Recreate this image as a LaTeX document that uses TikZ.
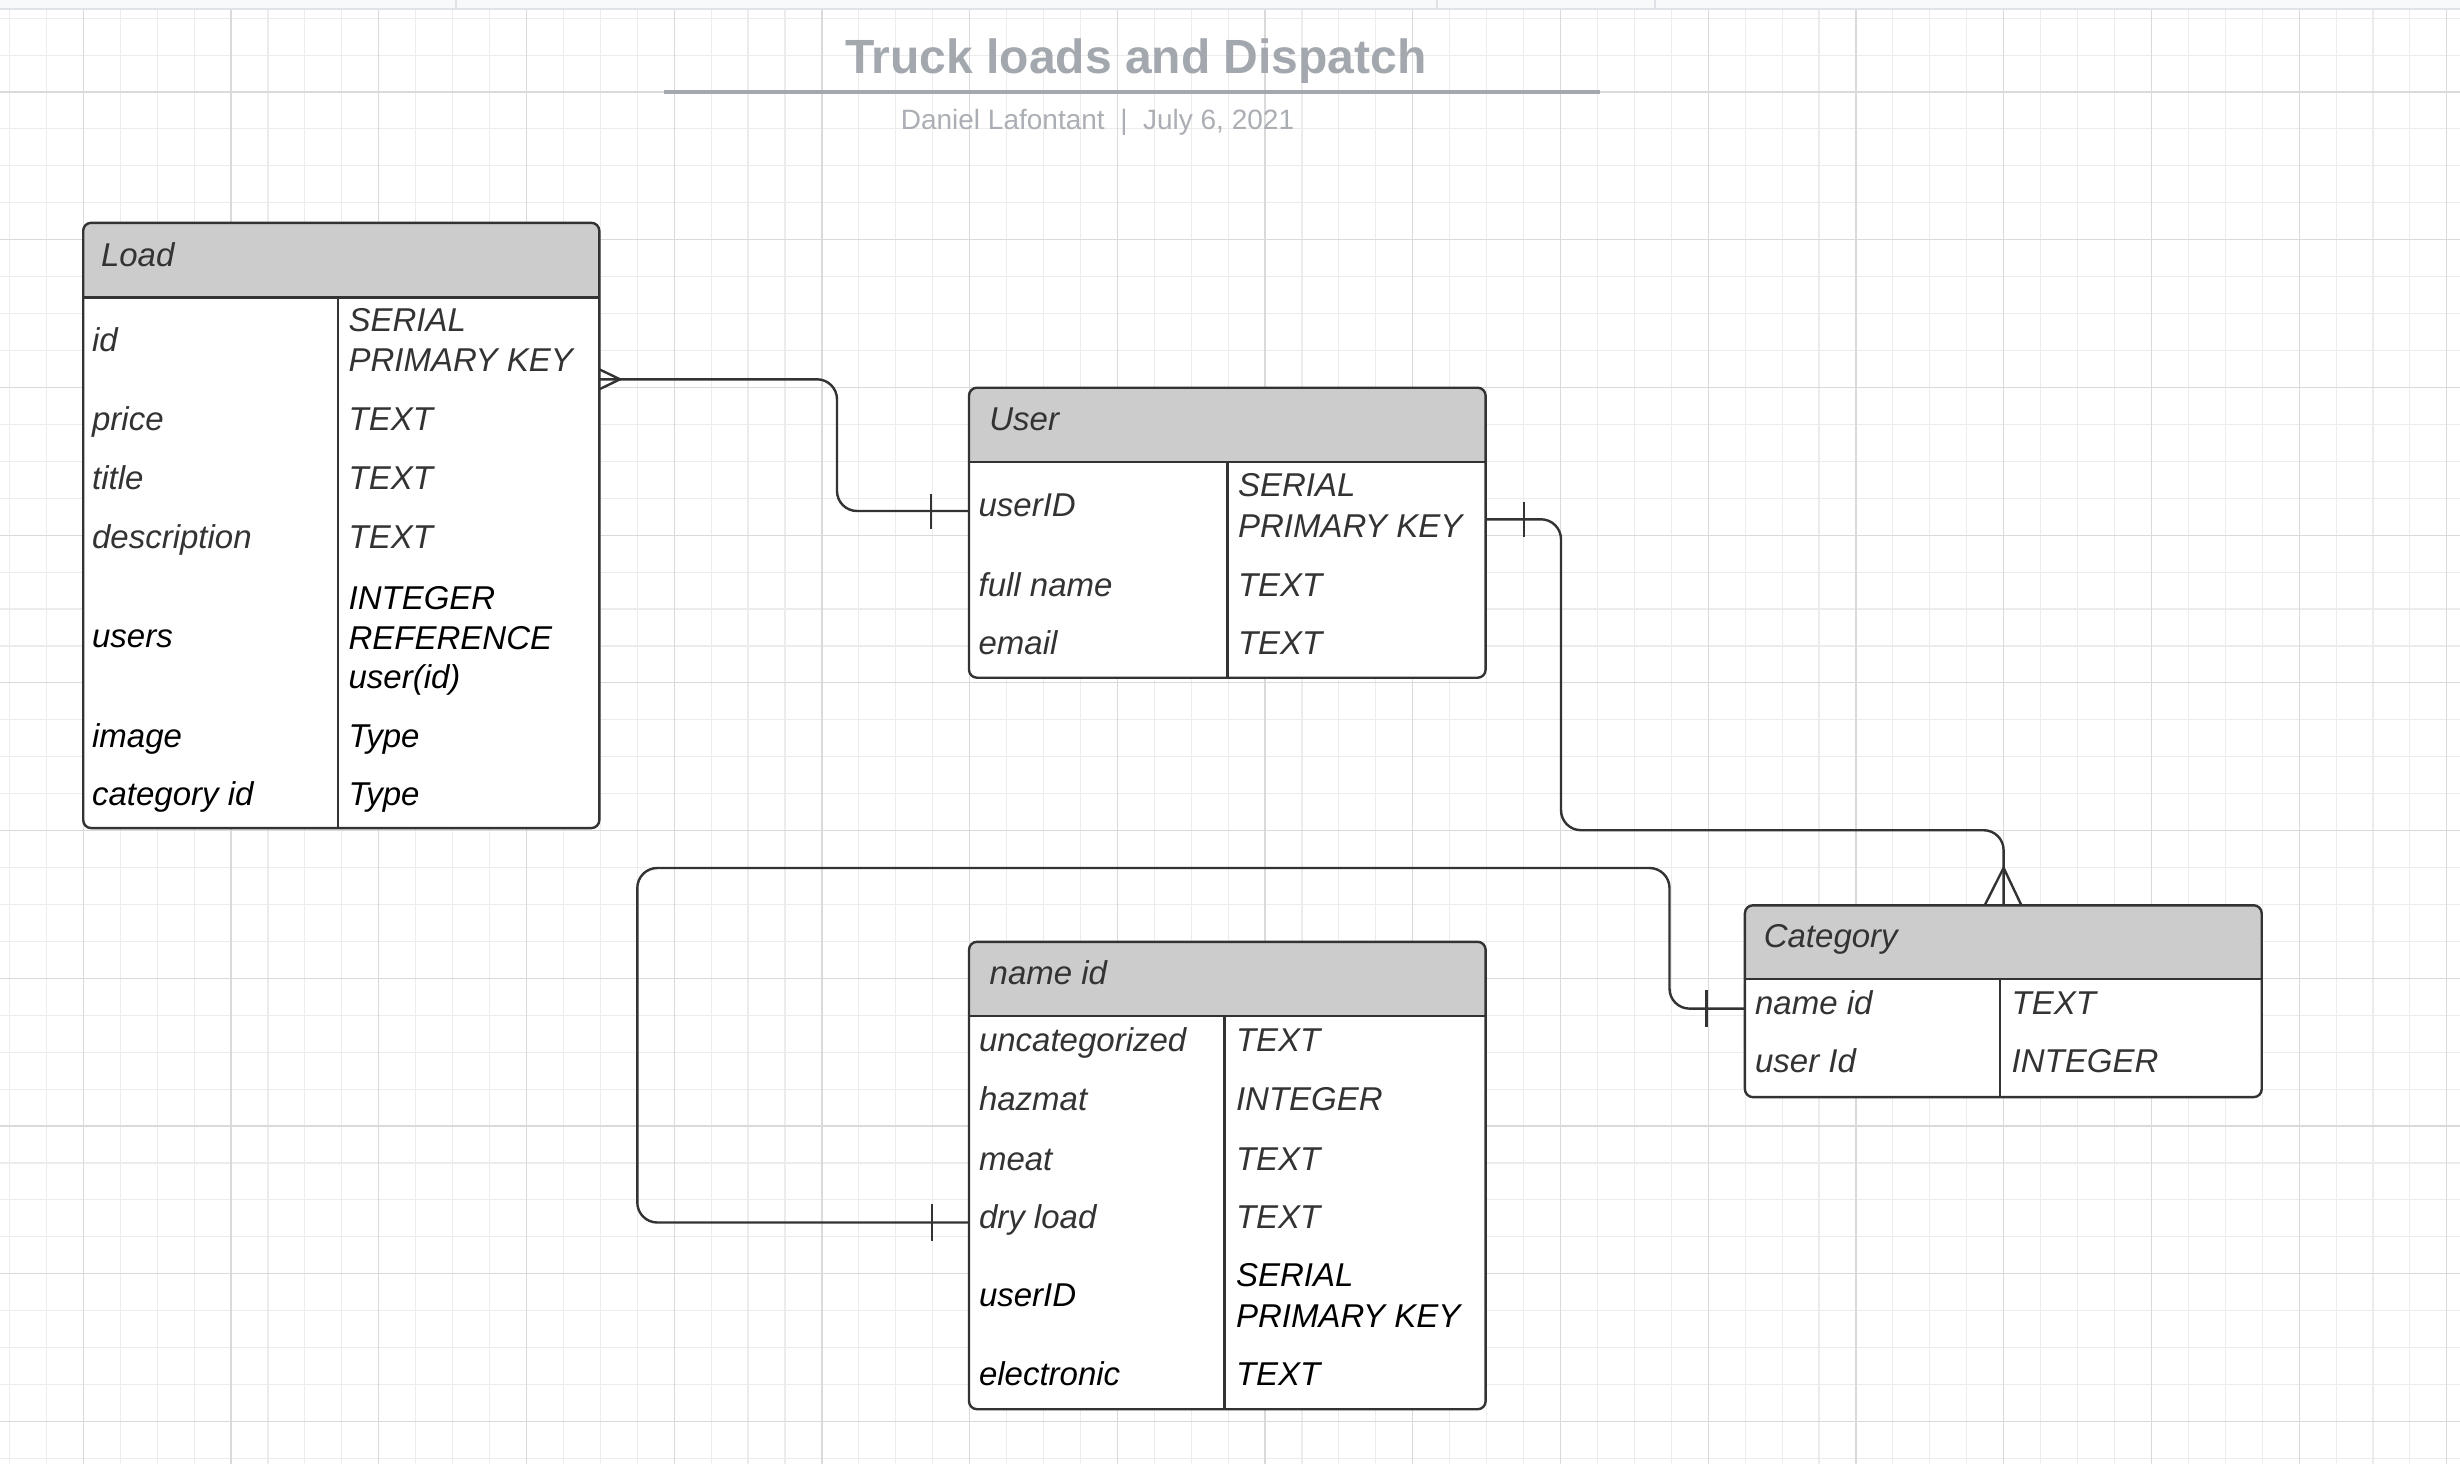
\documentclass[tikz,border=0pt]{standalone}
\usepackage{fontspec}
\setmainfont{Liberation Sans}
\definecolor{bd}{HTML}{333333}
\definecolor{hdr}{HTML}{CCCCCC}
\definecolor{txt}{HTML}{333333}
\definecolor{ttl}{HTML}{A3A7AE}
\definecolor{subc}{HTML}{ABAEB4}
\definecolor{gmin}{HTML}{ECECEC}
\definecolor{gmaj}{HTML}{DADADA}
\definecolor{stripc}{HTML}{F8F9FB}
\definecolor{stripln}{HTML}{DFE2E7}
\tikzset{
  bdline/.style={draw=bd, line width=2.4pt},
  conn/.style={draw=bd, line width=2.4pt, rounded corners=20pt},
  tblborder/.style={rectangle, draw=bd, line width=2.4pt, rounded corners=8pt, inner sep=0pt, outer sep=0pt},
  hdrfill/.style={fill=hdr},
  fld/.style={anchor=base west, inner sep=0pt, outer sep=0pt, font=\fontsize{33}{39}\selectfont\itshape, text=txt},
  fldk/.style={fld, text=black},
}
\newcommand{\ertable}[7]{%
  \begin{scope}
    \clip[rounded corners=8pt] (#2,#3) rectangle (#4,#5);
    \fill[white] (#2,#3) rectangle (#4,#5);
    \fill[hdrfill] (#2,#3) rectangle (#4,#6);
  \end{scope}
  \draw[bdline] (#2,#6) -- (#4,#6);
  \draw[bdline] (#7,#6) -- (#7,#5);
  \node[tblborder, anchor=north west, minimum width={#4-#2}, minimum height={#5-#3}] (#1) at (#2,#3) {};
}
\begin{document}
\begin{tikzpicture}[x=1pt,y=-1pt]
\useasboundingbox (0,0) rectangle (2460,1464);
\fill[white] (0,0) rectangle (2460,1464);
% grid
\foreach \k in {-2,...,64} {\draw[gmin, line width=1.1pt] ({83.3+\k*36.93},9) -- ({83.3+\k*36.93},1464);}
\foreach \k in {-2,...,37} {\draw[gmin, line width=1.1pt] (0,{92+\k*36.93}) -- (2460,{92+\k*36.93});}
\foreach \k in {0,...,16} {\draw[gmaj, line width=1.2pt] ({83.3+\k*147.72},9) -- ({83.3+\k*147.72},1464);}
\foreach \k in {0,...,9} {\draw[gmaj, line width=1.2pt] (0,{92+\k*147.72}) -- (2460,{92+\k*147.72});}
% top strip
\fill[stripc] (0,0) rectangle (2460,8);
\draw[stripln, line width=2pt] (0,8.7) -- (2460,8.7);
\foreach \xx in {456,1437,1655} {\draw[stripln, line width=1.5pt] (\xx,0) -- (\xx,8);}
% title
\node[anchor=base, inner sep=0pt, text=ttl, font=\fontsize{48}{56}\selectfont\bfseries] (title) at (1135.8,73.3) {Truck loads and Dispatch};
\draw[draw=ttl, line width=3.7pt] (663.6,92.2) coordinate (ul1) -- (1600.3,92.2) coordinate (ul2);
\node[anchor=base, inner sep=0pt, text=subc, font=\fontsize{28}{34}\selectfont] (subtitle) at (1097.5,129.3) {Daniel Lafontant\ \ |\ \ July 6, 2021};

% connectors (drawn under tables)
\coordinate (c1a) at (599.3,379.3);
\coordinate (c1b) at (969,511);
\draw[conn] (c1a) -- (837,379.3) -- (837,511) -- (c1b);
\coordinate (c2a) at (1485.6,519.3);
\coordinate (c2b) at (2003.6,905.3);
\draw[conn] (c2a) -- (1561,519.3) -- (1561,830.2) -- (2003.6,830.2) -- (c2b);
\coordinate (c3a) at (1744.9,1008.6);
\coordinate (c3b) at (969,1222.5);
\draw[conn] (c3a) -- (1669.5,1008.6) -- (1669.5,868) -- (637.3,868) -- (637.3,1222.5) -- (c3b);

% tables
\ertable{load}{83.2}{222.8}{599.3}{828.1}{297.4}{337.9}
\ertable{user}{969}{387.7}{1485.6}{677.7}{462}{1227.3}
\ertable{nameid}{969}{941.8}{1485.6}{1409.2}{1015.7}{1224.4}
\ertable{cat}{1744.9}{905.3}{2261.7}{1097.1}{978.8}{2000}

% connector ends
\draw[bdline] (599.3,369.3) -- (620,379.3) -- (599.3,389.3);
\draw[bdline] (930.8,493.5) -- (930.8,528.5);
\draw[bdline] (1524,501.5) -- (1524,537);
\draw[bdline] (1984.7,905.3) -- (2003.6,867.8) -- (2021.4,905.3);
\draw[bdline] (1706.6,990) -- (1706.6,1027);
\draw[bdline] (931.7,1204) -- (931.7,1241);

% Load text
\node[fld] (loadh) at (101,266.3) {Load};
\node[fld] (l1) at (92.1,351) {id};
\node[fld] (l1a) at (348.6,331.8) {SERIAL};
\node[fld] (l1b) at (348.6,371.2) {PRIMARY KEY};
\node[fld] (l2) at (92.1,430.5) {price};
\node[fld] (l2a) at (348.6,430.5) {TEXT};
\node[fld] (l3) at (92.1,489) {title};
\node[fld] (l3a) at (348.6,489) {TEXT};
\node[fld] (l4) at (92.1,548) {description};
\node[fld] (l4a) at (348.6,548) {TEXT};
\node[fldk] (l5) at (92.1,647.8) {users};
\node[fldk] (l5a) at (348.6,609.6) {INTEGER};
\node[fldk] (l5b) at (348.6,649) {REFERENCE};
\node[fldk] (l5c) at (348.6,688.4) {user(id)};
\node[fldk] (l6) at (92.1,747.3) {image};
\node[fldk] (l6a) at (348.6,747.3) {Type};
\node[fldk] (l7) at (92.1,805.3) {category id};
\node[fldk] (l7a) at (348.6,805.3) {Type};

% User text
\node[fld] (userh) at (989.4,430.7) {User};
\node[fld] (u1) at (978.6,516.7) {userID};
\node[fld] (u1a) at (1238,496.7) {SERIAL};
\node[fld] (u1b) at (1238,537.3) {PRIMARY KEY};
\node[fld] (u2) at (978.6,596) {full name};
\node[fld] (u2a) at (1238,596) {TEXT};
\node[fld] (u3) at (978.6,654) {email};
\node[fld] (u3a) at (1238,654) {TEXT};

% name id text
\node[fld] (nh) at (989.7,984) {name id};
\node[fld] (n1) at (979,1051.3) {uncategorized};
\node[fld] (n1a) at (1236,1051.3) {TEXT};
\node[fld] (n2) at (979,1110.6) {hazmat};
\node[fld] (n2a) at (1236,1110.6) {INTEGER};
\node[fld] (n3) at (979,1170) {meat};
\node[fld] (n3a) at (1236,1170) {TEXT};
\node[fld] (n4) at (979,1228) {dry load};
\node[fld] (n4a) at (1236,1228) {TEXT};
\node[fldk] (n5) at (979,1306.4) {userID};
\node[fldk] (n5a) at (1236,1286.6) {SERIAL};
\node[fldk] (n5b) at (1236,1327) {PRIMARY KEY};
\node[fldk] (n6) at (979,1385.4) {electronic};
\node[fldk] (n6a) at (1236,1385.4) {TEXT};

% Category text
\node[fld] (ch) at (1763.8,947.3) {Category};
\node[fld] (c1) at (1755.1,1014.7) {name id};
\node[fld] (c1t) at (2011.7,1014.7) {TEXT};
\node[fld] (c2) at (1755.1,1072.7) {user Id};
\node[fld] (c2t) at (2011.7,1072.7) {INTEGER};
\end{tikzpicture}
\end{document}
